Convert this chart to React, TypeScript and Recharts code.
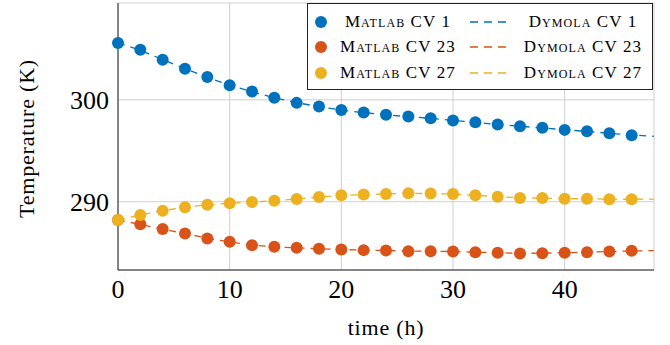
import {
  CartesianGrid,
  Legend,
  Line,
  LineChart,
  XAxis,
  YAxis,
} from "recharts";

const times = [0, 2, 4, 6, 8, 10, 12, 14, 16, 18, 20, 22, 24, 26, 28, 30, 32, 34, 36, 38, 40, 42, 44, 46, 48];

// Matlab results (markers), no sample at 48 h
const matlabCv1 = [305.57, 304.92, 303.93, 303.05, 302.23, 301.44, 300.82, 300.2, 299.7, 299.34, 299.0, 298.75, 298.53, 298.36, 298.2, 297.97, 297.8, 297.57, 297.41, 297.25, 297.05, 296.92, 296.72, 296.53];
const matlabCv23 = [288.2, 287.8, 287.32, 286.89, 286.4, 286.07, 285.74, 285.58, 285.48, 285.38, 285.32, 285.25, 285.22, 285.15, 285.15, 285.12, 285.05, 284.99, 284.92, 284.95, 284.99, 285.05, 285.12, 285.18];
const matlabCv27 = [288.2, 288.69, 289.12, 289.45, 289.71, 289.84, 289.97, 290.1, 290.27, 290.46, 290.63, 290.7, 290.76, 290.83, 290.8, 290.76, 290.63, 290.49, 290.36, 290.36, 290.3, 290.3, 290.24, 290.24];

// Dymola results (dashed lines)
const dymolaCv1 = [305.6, 304.85, 303.95, 303.05, 302.2, 301.45, 300.8, 300.2, 299.72, 299.33, 299.0, 298.74, 298.52, 298.35, 298.18, 297.98, 297.78, 297.58, 297.4, 297.24, 297.06, 296.9, 296.72, 296.55, 296.42];
const dymolaCv23 = [288.2, 287.78, 287.3, 286.88, 286.42, 286.06, 285.75, 285.57, 285.47, 285.38, 285.31, 285.25, 285.21, 285.16, 285.14, 285.11, 285.05, 284.99, 284.94, 284.95, 284.99, 285.05, 285.11, 285.17, 285.2];
const dymolaCv27 = [288.2, 288.7, 289.12, 289.45, 289.7, 289.85, 289.97, 290.1, 290.27, 290.45, 290.62, 290.7, 290.76, 290.82, 290.8, 290.75, 290.63, 290.5, 290.38, 290.35, 290.3, 290.29, 290.25, 290.24, 290.25];

const xTicks = [0, 10, 20, 30, 40];
const yTicks = [290, 300];

const series = [
  { cv: "1", matlab: matlabCv1, dymola: dymolaCv1, color: "#0072BD" },
  { cv: "23", matlab: matlabCv23, dymola: dymolaCv23, color: "#D95319" },
  { cv: "27", matlab: matlabCv27, dymola: dymolaCv27, color: "#EDB120" },
];

const data = times.map((t, i) => {
  const row: { [key: string]: number | undefined } = { t };
  series.forEach((s) => {
    row["m" + s.cv] = s.matlab[i];
    row["d" + s.cv] = s.dymola[i];
  });
  return row;
});

const font = "'Liberation Serif', 'DejaVu Serif', serif";

function LegendBox() {
  return (
    <div
      style={{
        border: "1px solid #222",
        background: "#fff",
        fontFamily: font,
        fontSize: 17,
        color: "#000",
        height: 87,
        boxSizing: "border-box",
        paddingTop: 5,
      }}
    >
      {series.map((s) => (
        <div key={s.cv} style={{ display: "flex", alignItems: "center", height: 25.5 }}>
          <svg width={26} height={14}>
            <circle cx={13} cy={7} r={6} fill={s.color} />
          </svg>
          <span style={{ width: 128, textAlign: "center", fontVariant: "small-caps", letterSpacing: 1.1 }}>
            Matlab CV {s.cv}
          </span>
          <svg width={52} height={10} style={{ marginLeft: 2 }}>
            <line x1={6} y1={5} x2={46} y2={5} stroke={s.color} strokeWidth={1.3} strokeDasharray="8 6" />
          </svg>
          <span style={{ width: 134, textAlign: "center", fontVariant: "small-caps", letterSpacing: 1.1 }}>
            Dymola CV {s.cv}
          </span>
        </div>
      ))}
    </div>
  );
}

export default function App() {
  return (
    <div style={{ position: "absolute", left: 0, top: 0, width: 670, height: 345, background: "#fff" }}>
      <LineChart width={670} height={345} data={data} margin={{ top: 3, right: 16, bottom: 0, left: 0 }}>
        <CartesianGrid stroke="#cfcfcf" strokeWidth={1} />
        <XAxis
          dataKey="t"
          type="number"
          domain={[0, 48]}
          ticks={xTicks}
          height={75}
          stroke="#222"
          tickLine={false}
          tickMargin={4}
          tick={{ fill: "#000", fontSize: 26, fontFamily: font }}
          label={{ value: "time (h)", position: "insideBottom", offset: 10, style: { fill: "#000", fontSize: 22, fontFamily: font, letterSpacing: 0.8 } }}
        />
        <XAxis xAxisId="top" orientation="top" dataKey="t" type="number" domain={[0, 48]} height={0} tick={false} tickLine={false} stroke="#222" />
        <YAxis
          type="number"
          domain={[283.3, 309.5]}
          ticks={yTicks}
          width={118}
          stroke="#222"
          tickLine={false}
          tickMargin={3}
          tick={{ fill: "#000", fontSize: 26, fontFamily: font }}
          label={{
            content: (props: any) => {
              const vb = props.viewBox || { x: 0, y: 3, width: 118, height: 267 };
              const cx = vb.x + 26;
              const cy = vb.y + vb.height / 2 + 2;
              return (
                <text x={cx} y={cy} transform={`rotate(-90 ${cx} ${cy})`} textAnchor="middle" dominantBaseline="central" fill="#000" fontSize={22} fontFamily={font} letterSpacing={0.8}>
                  Temperature (K)
                </text>
              );
            },
          }}
        />
        <YAxis yAxisId="right" orientation="right" type="number" domain={[283.3, 309.5]} width={0} tick={false} tickLine={false} stroke="#222" />
        {series.map((s) => [
          <Line
            key={"m" + s.cv}
            dataKey={"m" + s.cv}
            stroke="none"
            dot={{ r: 6, fill: s.color, stroke: "none" }}
            activeDot={false}
            isAnimationActive={false}
          />,
          <Line
            key={"d" + s.cv}
            dataKey={"d" + s.cv}
            stroke={s.color}
            strokeWidth={1.3}
            strokeDasharray="7 6"
            dot={false}
            activeDot={false}
            type="linear"
            isAnimationActive={false}
          />,
        ])}
        <Legend
          layout="horizontal"
          verticalAlign="middle"
          align="center"
          width={346}
          wrapperStyle={{ top: 3, left: 307, width: 346 }}
          content={() => <LegendBox />}
        />
      </LineChart>
    </div>
  );
}
